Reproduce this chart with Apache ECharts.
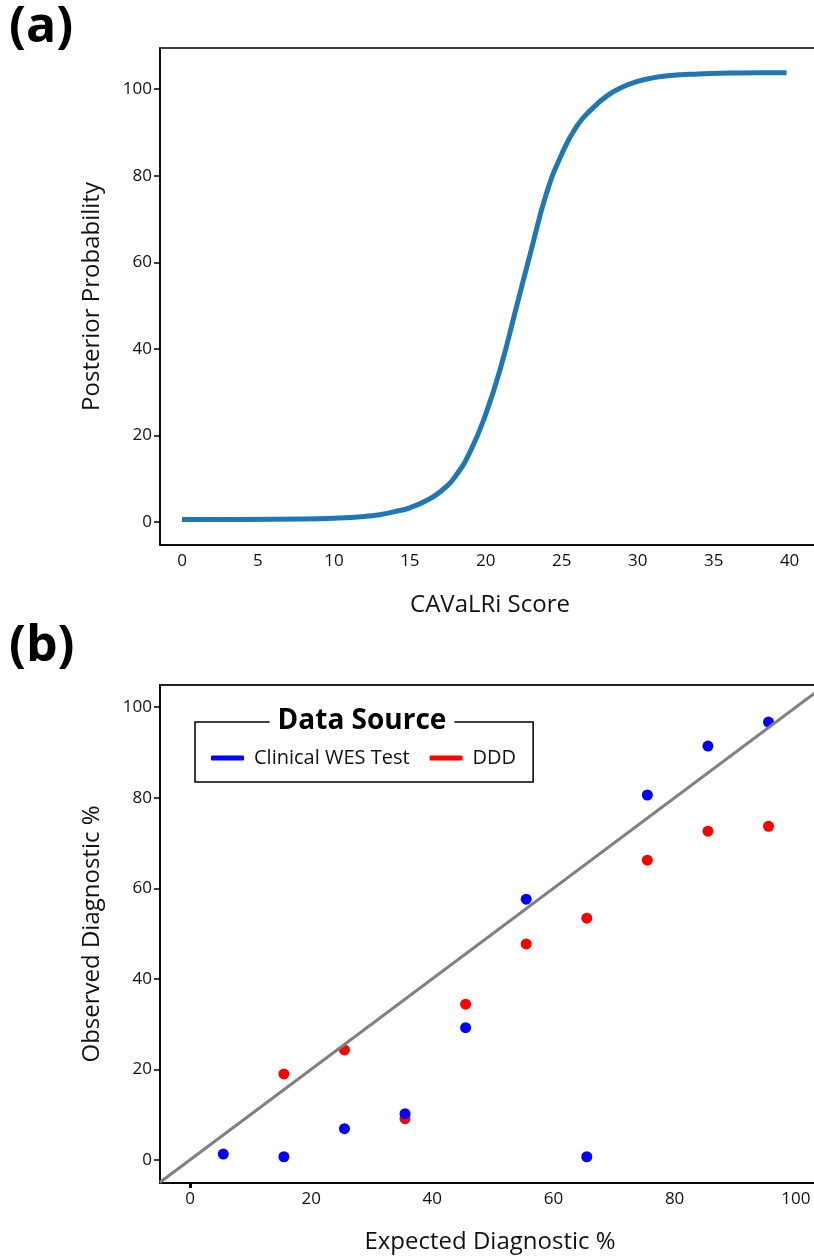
<!DOCTYPE html>
<html><head><meta charset="utf-8">
<script src="https://cdn.jsdelivr.net/npm/echarts@6/dist/echarts.min.js"></script>
<style>html,body{margin:0;padding:0;background:#fff}#c{width:814px;height:1256px}</style>
</head><body><div id="c"></div>
<script>
// Panel (a): posterior probability curve
const scoreValues = [0,4,8,10,12,13,14,15,16,17,18,19,20,21,22,23,24,25,26,27,28,29,30,31,32,34,36,38,39.8];
const posteriorValues = [0.6,0.6,0.7,0.9,1.3,1.7,2.4,3.3,4.8,7.0,10.6,16.5,25,36,49.5,63,76,85,91.5,95.5,98.5,100.5,101.8,102.6,103.1,103.5,103.7,103.8,103.8];
const scoreTicks = [0,5,10,15,20,25,30,35,40];
const posteriorTicks = [0,20,40,60,80,100];
// Panel (b): calibration scatter
const expectedPct = [5.5,15.5,25.5,35.5,45.5,55.5,65.5,75.5,85.5,95.5];
const wesObserved = [1.3,0.7,6.9,10.2,29.2,57.6,0.7,80.6,91.4,96.7];
const dddObserved = [null,19.0,24.3,9.1,34.4,47.7,53.4,66.2,72.6,73.7];
const expectedTicks = [0,20,40,60,80,100];
const observedTicks = [0,20,40,60,80,100];
const identityLine = [[-5,-5],[105,105]];

const FONT = 'Open Sans';
const pair = (xs, ys) => xs.map((x, i) => [x, ys[i]]).filter(p => p[1] !== null);

function valAxis(o) {
  return Object.assign({
    type: 'value',
    splitLine: { show: false },
    axisLine: { show: true, onZero: false, lineStyle: { color: '#000', width: 1.5 } },
    nameLocation: 'middle',
    nameTextStyle: { fontFamily: FONT, fontSize: 24, color: '#111' }
  }, o);
}
function labels(vals) {
  return { customValues: vals, fontFamily: FONT, fontSize: 17, color: '#111', margin: 8 };
}

const chart = echarts.init(document.getElementById('c'), null, { renderer: 'canvas' });
chart.setOption({
  animation: false,
  backgroundColor: '#fff',
  grid: [
    { left: 160, top: 48, width: 660, height: 497, outerBoundsMode: 'none', containLabel: false,
      show: true, borderColor: '#000', borderWidth: 1.5, backgroundColor: 'transparent' },
    { left: 160, top: 685, width: 660, height: 498, outerBoundsMode: 'none', containLabel: false,
      show: true, borderColor: '#222', borderWidth: 2, backgroundColor: 'transparent' }
  ],
  xAxis: [
    valAxis({ gridIndex: 0, min: -1.45, max: 42, name: 'CAVaLRi Score', nameGap: 48,
      axisTick: { show: false }, axisLabel: labels(scoreTicks) }),
    valAxis({ gridIndex: 1, min: -4.95, max: 104, name: 'Expected Diagnostic %', nameGap: 47,
      axisTick: { show: true, customValues: [0], length: 5, lineStyle: { width: 3, color: '#000' } },
      axisLabel: labels(expectedTicks) })
  ],
  yAxis: [
    valAxis({ gridIndex: 0, min: -5.3, max: 109.5, name: 'Posterior Probability', nameGap: 56,
      axisTick: { show: true, customValues: posteriorTicks, length: 6, lineStyle: { color: '#000', width: 1.5 } },
      axisLabel: labels(posteriorTicks) }),
    valAxis({ gridIndex: 1, min: -5.1, max: 104.9, name: 'Observed Diagnostic %', nameGap: 56,
      axisTick: { show: true, customValues: observedTicks, length: 6, lineStyle: { color: '#000', width: 1.5 } },
      axisLabel: labels(observedTicks) })
  ],
  legend: {
    data: ['Clinical WES Test', 'DDD'],
    left: 195, top: 722,
    icon: 'roundRect', itemWidth: 33, itemHeight: 5, itemGap: 20,
    padding: [26, 17, 14, 16],
    borderColor: '#000', borderWidth: 1.5,
    selectedMode: false,
    itemStyle: { opacity: 1 },
    textStyle: { fontFamily: FONT, fontSize: 20, color: '#111', padding: [0, 0, 0, 5] }
  },
  graphic: [
    { type: 'text', left: 9, top: 3, z: 100, style: { text: '(a)', font: 'bold 50px "Open Sans"', fill: '#000' } },
    { type: 'text', left: 9, top: 622, z: 100, style: { text: '(b)', font: 'bold 50px "Open Sans"', fill: '#000' } },
    { type: 'text', x: 362, y: 721, z: 100, style: { text: 'Data Source', font: 'bold 28px "Open Sans"', fill: '#000',
      align: 'center', verticalAlign: 'middle', backgroundColor: '#fff', padding: [0, 8] } }
  ],
  series: [
    { type: 'line', name: 'Posterior', xAxisIndex: 0, yAxisIndex: 0, data: pair(scoreValues, posteriorValues),
      smooth: true, showSymbol: false, lineStyle: { color: '#1f77b4', width: 5 } },
    { type: 'scatter', name: 'DDD', xAxisIndex: 1, yAxisIndex: 1, data: pair(expectedPct, dddObserved),
      symbolSize: 11, itemStyle: { color: '#ff0000', opacity: 1 }, z: 2 },
    { type: 'scatter', name: 'Clinical WES Test', xAxisIndex: 1, yAxisIndex: 1, data: pair(expectedPct, wesObserved),
      symbolSize: 11, itemStyle: { color: '#0000ff', opacity: 1 }, z: 3 },
    { type: 'line', name: 'Identity', xAxisIndex: 1, yAxisIndex: 1, data: identityLine, showSymbol: false,
      lineStyle: { color: '#808080', width: 3 }, z: 4, clip: true }
  ]
});
</script></body></html>
